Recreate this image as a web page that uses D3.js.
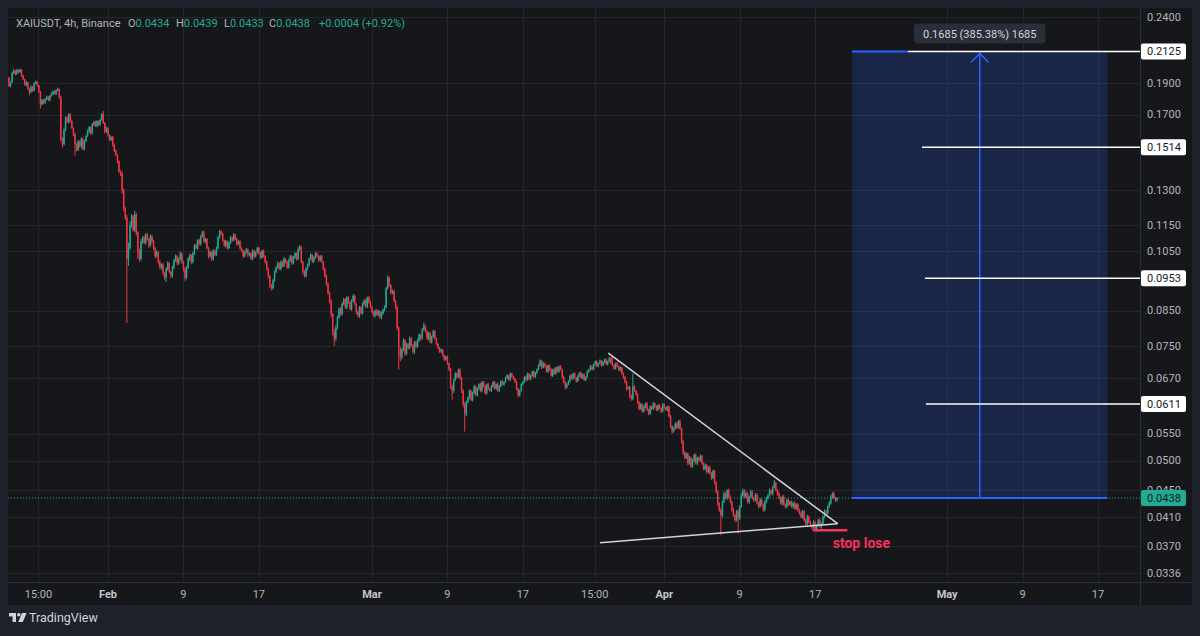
<!DOCTYPE html>
<html lang="en">
<head>
<meta charset="UTF-8">
<title>XAIUSDT 4h</title>
<script src="https://d3js.org/d3.v7.min.js"></script>
<style>
  body { margin: 0; background: #1e2129; }
  svg text { font-family: Roboto, "Noto Sans", sans-serif; }
</style>
</head>
<body>
<script>
const width = 1200;
const height = 636;

// 4h candles, first bar 2025-01-21 12:00 UTC, prices in 0.0001 units
const firstBar = Date.UTC(2025, 0, 21, 12);
const barMs = 4 * 3600 * 1000;
const firstOpen = 1935;
const closes = [
  1880,1905,1968,1985,1962,1990,1975,1992,1950,1925,1890,1905,
  1862,1840,1875,1850,1898,1910,1885,1840,1762,1790,1772,1795,
  1810,1788,1815,1830,1845,1828,1852,1860,1805,1560,1530,1610,
  1680,1655,1702,1660,1620,1585,1530,1500,1545,1520,1560,1505,
  1548,1575,1600,1625,1590,1640,1655,1632,1660,1640,1668,1700,
  1650,1600,1620,1580,1555,1570,1530,1495,1475,1440,1390,1380,
  1300,1220,1180,1020,1060,1150,1185,1130,1195,1120,1050,1020,
  1085,1100,1080,1112,1095,1070,1105,1085,1060,1030,1045,1010,
  990,1000,972,955,985,1005,975,962,990,1015,1030,1005,
  1020,1040,1010,985,955,990,1020,1035,1010,1040,1070,1060,
  1090,1075,1105,1120,1085,1095,1060,1030,1045,1020,1050,1035,
  1060,1100,1125,1115,1090,1070,1085,1060,1080,1100,1090,1112,
  1095,1075,1085,1060,1050,1030,1045,1055,1035,1040,1020,1050,
  1030,1045,1060,1040,1025,1050,1030,1010,985,960,930,920,
  945,975,990,1005,985,1010,995,1020,1010,990,1015,1030,
  1005,1025,1040,1020,1055,1065,1010,975,960,985,1000,1020,
  1035,1010,1025,1040,1030,1015,1030,1010,985,960,935,905,
  880,840,790,770,800,830,855,840,870,885,860,890,
  875,855,880,895,870,845,835,860,842,870,880,862,
  890,875,860,845,835,850,838,848,830,842,852,860,
  920,955,930,905,910,880,860,800,745,720,740,765,
  730,755,745,770,752,735,760,748,765,780,770,795,
  805,790,770,785,760,775,790,770,755,745,735,740,
  725,715,722,705,690,650,640,665,680,672,690,670,
  640,610,590,615,625,640,620,635,650,630,645,655,
  640,660,650,635,655,645,640,650,660,645,655,640,
  650,662,655,660,670,675,665,680,672,668,660,645,
  630,640,655,660,672,665,680,668,675,685,672,682,
  690,700,712,695,705,698,685,700,690,675,690,680,
  695,685,698,690,672,660,648,655,662,675,668,680,
  670,662,675,682,670,678,665,672,685,690,698,690,
  702,710,698,705,712,700,708,715,703,710,718,705,
  700,692,705,698,688,695,680,672,660,645,648,630,
  622,650,640,632,615,600,610,595,605,612,598,590,
  605,600,612,605,598,608,602,595,610,603,598,605,
  585,565,555,560,570,562,575,560,535,515,505,512,
  495,505,490,500,510,495,505,500,508,495,485,492,
  480,488,478,470,482,462,448,430,420,412,432,445,
  438,450,440,432,420,412,405,418,408,425,442,450,
  440,445,432,440,448,438,435,443,430,425,435,428,
  420,432,438,442,450,445,455,462,450,445,438,430,
  440,428,425,435,428,432,425,430,422,428,420,415,
  410,418,405,400,410,402,398,395,402,392,398,405,
  396,400,410,418,415,425,430,440,445,438,434,438
];
// wick lengths above / below the body, 0.0001 units
const upWick = [
  8,5,10,12,6,9,4,7,3,6,5,9,  4,7,10,5,8,6,4,3,9,5,7,6,
  8,4,6,9,5,7,6,10,4,12,8,14,  10,9,6,5,7,4,8,6,10,5,9,7,
  6,8,12,7,5,9,6,10,7,5,8,9,  22,6,9,5,7,4,6,5,8,4,6,5,
  10,8,6,12,20,15,10,8,15,6,5,7,  9,6,8,5,7,4,8,5,6,4,7,3,
  5,4,6,3,5,7,4,3,6,5,7,4,  5,8,3,4,6,5,7,4,3,6,5,8,
  4,6,5,7,9,4,3,5,6,4,7,3,  5,8,6,4,5,3,6,4,5,7,4,6,
  3,5,4,6,3,4,5,6,3,4,5,6,  4,3,5,4,6,3,5,4,3,5,4,3,
  6,5,4,6,3,5,4,7,3,4,6,5,  4,6,5,4,8,7,3,4,5,6,4,5,
  6,3,5,4,6,3,5,4,3,4,5,3,  4,5,3,6,8,5,4,6,5,4,3,5,
  4,3,5,6,4,3,5,4,3,5,4,6,  3,4,5,3,4,3,5,4,3,5,4,6,
  5,7,4,3,5,4,3,5,4,3,4,5,  3,4,3,5,4,3,4,3,5,4,3,4,
  10,3,4,3,4,3,4,3,2,3,2,3,  2,3,2,3,2,3,4,3,4,3,2,3,
  2,3,4,3,2,3,2,3,4,2,3,2,  3,2,3,4,2,3,2,3,2,3,2,4,
  3,2,3,2,3,4,2,3,2,3,2,3,  2,3,2,3,2,4,3,2,3,2,3,2,
  3,4,3,2,3,2,3,2,3,4,2,3,  2,3,2,3,2,3,2,3,2,3,4,2,
  3,2,3,2,3,2,3,2,3,2,3,2,  3,2,3,2,3,2,3,2,3,2,3,4,
  17,3,2,3,2,3,2,3,2,3,2,3,  2,30,3,2,3,2,3,2,3,2,3,2,
  3,2,3,2,3,2,3,2,3,2,3,2,  2,3,2,3,2,3,2,3,2,3,2,3,
  2,3,2,3,2,3,2,2,3,2,2,3,  2,2,3,2,2,2,3,2,2,3,2,3,
  2,2,3,2,2,3,2,2,3,2,4,3,  2,3,2,2,3,2,2,3,2,2,3,2,
  2,3,2,2,3,2,2,5,2,2,3,2,  2,3,2,2,3,2,2,2,3,2,2,2,
  3,2,2,2,3,2,2,2,3,2,2,2,  3,2,2,3,2,2,3,3,2,3,2,1
];
const downWick = [
  6,9,4,7,10,5,8,6,9,5,7,12,  8,20,6,9,5,7,10,8,25,6,9,7,
  5,8,6,4,9,5,7,6,8,15,20,6,  8,5,9,7,6,10,60,8,6,9,12,7,
  8,6,5,9,7,6,8,5,7,9,6,5,  6,10,7,9,6,8,12,7,9,10,8,12,
  15,12,10,207,25,8,10,6,9,12,30,10,  6,8,5,7,6,9,5,7,6,8,5,9,
  6,7,10,8,15,6,5,9,7,6,5,8,  6,5,8,10,12,6,5,7,9,6,5,4,
  7,5,6,4,5,8,6,9,5,7,6,5,  4,6,5,7,6,5,8,6,4,5,6,4,
  5,6,4,7,5,6,4,5,7,6,4,5,  6,5,4,5,6,4,5,7,6,8,10,7,
  5,4,6,5,4,6,5,4,6,5,4,5,  6,4,5,6,4,5,6,8,5,4,5,6,
  4,5,3,4,5,6,4,5,6,5,7,6,  8,10,12,20,6,5,4,6,5,4,5,6,
  5,4,6,5,4,6,5,7,4,5,6,4,  5,4,3,5,4,6,4,5,4,6,5,4,
  3,4,5,6,4,5,6,8,55,10,5,4,  6,4,5,3,4,5,6,4,3,4,5,3,
  4,3,4,5,3,4,3,4,3,4,3,4,  3,4,3,4,4,6,20,5,3,4,3,4,
  5,6,36,5,3,4,3,4,3,2,3,4,  3,4,2,3,4,3,2,3,4,2,3,2,
  3,2,3,4,2,3,2,3,2,3,2,4,  5,3,2,3,2,3,2,3,4,2,3,2,
  3,2,3,4,2,3,2,4,3,2,3,2,  3,2,3,2,4,3,5,3,2,3,2,3,
  2,3,2,3,2,3,2,3,2,3,2,3,  2,3,2,3,2,3,2,3,2,3,2,3,
  2,3,2,3,2,3,3,4,3,5,3,6,  4,3,2,3,4,3,2,3,2,3,2,3,
  2,3,2,3,2,3,2,3,2,3,2,3,  3,4,5,3,2,3,2,3,4,5,3,2,
  3,2,3,2,3,2,3,2,2,3,2,2,  3,2,2,3,2,2,3,4,3,28,3,2,
  2,3,2,2,3,2,3,2,22,3,2,2,  3,2,2,3,2,2,3,2,2,3,2,2,
  3,2,2,3,2,2,3,2,2,3,2,2,  3,2,2,3,2,2,2,3,2,2,3,2,
  2,3,2,2,3,2,2,3,2,2,3,2,  2,3,2,2,3,2,2,2,3,2,2,1
];

// price axis
const priceTicks = [0.24, 0.19, 0.17, 0.13, 0.115, 0.105, 0.085, 0.075, 0.067, 0.055, 0.05, 0.045, 0.041, 0.037, 0.0336];
// time axis
const timeTicks = ["2025-01-24T15:00Z", "2025-02-01T00:00Z", "2025-02-09T00:00Z", "2025-02-17T00:00Z",
  "2025-03-01T00:00Z", "2025-03-09T00:00Z", "2025-03-17T00:00Z", "2025-03-24T15:00Z",
  "2025-04-01T00:00Z", "2025-04-09T00:00Z", "2025-04-17T00:00Z", "2025-05-01T00:00Z",
  "2025-05-09T00:00Z", "2025-05-17T00:00Z"];
const timeLabels = ["15:00", "Feb", "9", "17", "Mar", "9", "17", "15:00", "Apr", "9", "17", "May", "9", "17"];

// drawings
const longEntry = 0.0438;
const longTarget = 0.2125;
const longStart = "2025-04-20T22:00Z";
const longEnd = "2025-05-18T00:00Z";
const longLabel = "0.1685 (385.38%) 1685";
const targetLevels = [0.2125, 0.1514, 0.0953, 0.0611];
const targetStarts = ["2025-04-26T20:30Z", "2025-04-28T08:00Z", "2025-04-28T15:30Z", "2025-04-28T18:00Z"];
const upperTrend = [["2025-03-26T01:30Z", 0.0731], ["2025-04-19T09:20Z", 0.0400]];
const lowerTrend = [["2025-03-25T04:20Z", 0.0374], ["2025-04-19T09:20Z", 0.0400]];
const stopLine = [["2025-04-16T17:45Z", 0.0391], ["2025-04-20T09:50Z", 0.0391]];
const stopText = "stop lose";

const upColor = "#22ab94";
const downColor = "#f23645";
const gridColor = "#24262b";
const textColor = "#b2b5be";

const pane = {left: 8, right: 1140, top: 8, bottom: 582};
const frameRight = 1192, frameBottom = 605;

const candles = closes.map((c, i) => {
  const o = i === 0 ? firstOpen : closes[i - 1];
  return {
    t: new Date(firstBar + i * barMs),
    o: o / 1e4, c: c / 1e4,
    h: (Math.max(o, c) + upWick[i]) / 1e4,
    l: (Math.min(o, c) - downWick[i]) / 1e4
  };
});
const last = candles[candles.length - 1];
const prev = candles[candles.length - 2];

const x = d3.scaleUtc()
    .domain([new Date("2025-02-01T00:00Z"), new Date("2025-05-17T00:00Z")])
    .range([108, 1098]);
const y = d3.scaleLog()
    .domain([0.0336, 0.24])
    .range([573, 17]);

const svg = d3.select("body").append("svg")
    .attr("width", width).attr("height", height);

svg.append("rect").attr("width", width).attr("height", height).attr("fill", "#1e2129");
svg.append("rect")
    .attr("x", pane.left).attr("y", pane.top)
    .attr("width", frameRight - pane.left).attr("height", frameBottom - pane.top)
    .attr("fill", "#16171b");

svg.append("defs").append("clipPath").attr("id", "clip")
    .append("rect")
    .attr("x", pane.left).attr("y", pane.top)
    .attr("width", pane.right - pane.left).attr("height", pane.bottom - pane.top);

// grid
const grid = svg.append("g").attr("stroke", gridColor).attr("stroke-width", 1);
grid.selectAll("line.h").data(priceTicks).join("line")
    .attr("x1", pane.left).attr("x2", pane.right)
    .attr("y1", d => Math.round(y(d)) + 0.5).attr("y2", d => Math.round(y(d)) + 0.5);
grid.selectAll("line.v").data(timeTicks).join("line")
    .attr("x1", d => Math.round(x(new Date(d))) + 0.5).attr("x2", d => Math.round(x(new Date(d))) + 0.5)
    .attr("y1", pane.top).attr("y2", pane.bottom);

// axis borders
const border = svg.append("g").attr("stroke", "#2a2e39").attr("stroke-width", 1);
border.append("line").attr("x1", pane.right + 0.5).attr("x2", pane.right + 0.5)
    .attr("y1", pane.top).attr("y2", frameBottom);
border.append("line").attr("x1", pane.left).attr("x2", frameRight)
    .attr("y1", pane.bottom + 0.5).attr("y2", pane.bottom + 0.5);

const plot = svg.append("g").attr("clip-path", "url(#clip)");

// last price dotted line
plot.append("line")
    .attr("x1", pane.left).attr("x2", pane.right)
    .attr("y1", y(last.c)).attr("y2", y(last.c))
    .attr("stroke", upColor).attr("stroke-width", 1).attr("stroke-dasharray", "1,2");

// candles
plot.append("g").selectAll("line").data(candles).join("line")
    .attr("x1", d => x(d.t)).attr("x2", d => x(d.t))
    .attr("y1", d => y(d.h)).attr("y2", d => y(d.l))
    .attr("stroke", d => d.c >= d.o ? upColor : downColor)
    .attr("stroke-width", 1);
plot.append("g").selectAll("rect").data(candles).join("rect")
    .attr("x", d => x(d.t) - 0.7).attr("width", 1.4)
    .attr("y", d => y(Math.max(d.o, d.c)))
    .attr("height", d => Math.max(1, Math.abs(y(d.o) - y(d.c))))
    .attr("fill", d => d.c >= d.o ? upColor : downColor);

// long position tool
const lx0 = x(new Date(longStart)), lx1 = x(new Date(longEnd));
const lxm = (lx0 + lx1) / 2;
plot.append("rect")
    .attr("x", lx0).attr("width", lx1 - lx0)
    .attr("y", y(longTarget)).attr("height", y(longEntry) - y(longTarget))
    .attr("fill", "rgba(41,98,255,0.2)");
plot.append("line")
    .attr("x1", lx0).attr("x2", lx1)
    .attr("y1", y(longEntry)).attr("y2", y(longEntry))
    .attr("stroke", "#2962ff").attr("stroke-width", 2);
plot.append("line")
    .attr("x1", lx0).attr("x2", x(new Date(targetStarts[0])))
    .attr("y1", y(longTarget)).attr("y2", y(longTarget))
    .attr("stroke", "#2962ff").attr("stroke-width", 2);
plot.append("line")
    .attr("x1", lxm).attr("x2", lxm)
    .attr("y1", y(longEntry)).attr("y2", y(longTarget) + 2)
    .attr("stroke", "#2962ff").attr("stroke-width", 1.5);
plot.append("path")
    .attr("d", `M${lxm - 9},${y(longTarget) + 11}L${lxm},${y(longTarget) + 2}L${lxm + 9},${y(longTarget) + 11}`)
    .attr("fill", "none").attr("stroke", "#2962ff").attr("stroke-width", 1.5);

// target lines
plot.selectAll("line.target").data(targetLevels).join("line")
    .attr("x1", (d, i) => x(new Date(targetStarts[i]))).attr("x2", pane.right)
    .attr("y1", d => y(d)).attr("y2", d => y(d))
    .attr("stroke", "#ffffff").attr("stroke-width", 1.5);

// triangle
const trendLine = d3.line().x(d => x(new Date(d[0]))).y(d => y(d[1]));
plot.append("path").attr("d", trendLine(upperTrend))
    .attr("fill", "none").attr("stroke", "#d1d4dc").attr("stroke-width", 1.5);
plot.append("path").attr("d", trendLine(lowerTrend))
    .attr("fill", "none").attr("stroke", "#d1d4dc").attr("stroke-width", 1.5);
plot.append("path").attr("d", trendLine(stopLine))
    .attr("fill", "none").attr("stroke", "#f7325b").attr("stroke-width", 2.5);
plot.append("text")
    .attr("x", x(new Date(stopLine[0][0])) + 20).attr("y", y(stopLine[0][1]) + 18)
    .attr("fill", "#f7325b").attr("font-size", 14).attr("font-weight", "bold")
    .text(stopText);

// long tool label
const lbl = svg.append("g");
const lblText = lbl.append("text")
    .attr("x", lxm).attr("y", y(longTarget) - 13)
    .attr("text-anchor", "middle").attr("fill", "#d1d4dc").attr("font-size", 11)
    .text(longLabel);
const bb = lblText.node().getBBox();
lbl.insert("rect", "text")
    .attr("x", bb.x - 9).attr("y", y(longTarget) - 28)
    .attr("width", bb.width + 18).attr("height", 20).attr("rx", 4)
    .attr("fill", "#2a2e39");

// right axis labels
svg.append("g").selectAll("text").data(priceTicks).join("text")
    .attr("x", 1147).attr("y", d => y(d)).attr("dy", "0.35em")
    .attr("fill", textColor).attr("font-size", 11)
    .text(d => d.toFixed(4));

const boxes = svg.append("g");
targetLevels.forEach(v => {
  boxes.append("rect").attr("x", 1141).attr("y", y(v) - 8)
      .attr("width", 45).attr("height", 16).attr("rx", 2).attr("fill", "#ffffff");
  boxes.append("text").attr("x", 1147).attr("y", y(v)).attr("dy", "0.35em")
      .attr("fill", "#131722").attr("font-size", 11).text(v.toFixed(4));
});
boxes.append("rect").attr("x", 1141).attr("y", y(last.c) - 8)
    .attr("width", 45).attr("height", 16).attr("rx", 2).attr("fill", upColor);
boxes.append("text").attr("x", 1147).attr("y", y(last.c)).attr("dy", "0.35em")
    .attr("fill", "#131722").attr("font-size", 11).text(last.c.toFixed(4));

// time axis labels
svg.append("g").selectAll("text").data(timeTicks).join("text")
    .attr("x", d => x(new Date(d))).attr("y", 598)
    .attr("text-anchor", "middle").attr("font-size", 11)
    .attr("fill", (d, i) => /[A-Za-z]/.test(timeLabels[i]) ? "#c3c6ce" : textColor)
    .attr("font-weight", (d, i) => /[A-Za-z]/.test(timeLabels[i]) ? "bold" : "normal")
    .text((d, i) => timeLabels[i]);

// header legend
const fmt = d3.format(".4f");
const chg = last.c - prev.c;
const header = svg.append("text").attr("y", 27).attr("font-size", 11);
const parts = [
  [16, "XAIUSDT, 4h, Binance", textColor],
  [128, "O", textColor], [null, fmt(last.o), upColor],
  [176, "H", textColor], [null, fmt(last.h), upColor],
  [224, "L", textColor], [null, fmt(last.l), upColor],
  [269, "C", textColor], [null, fmt(last.c), upColor],
  [319, `+${fmt(chg)} (+${(chg / prev.c * 100).toFixed(2)}%)`, upColor]
];
parts.forEach(p => {
  const t = header.append("tspan").attr("fill", p[2]).text(p[1]);
  if (p[0] !== null) t.attr("x", p[0]);
});

// TradingView logo
const logo = svg.append("g").attr("transform", "translate(9,613)").attr("fill", "#d1d4dc");
logo.append("path").attr("d", "M0 0H7V9H3.6V3.4H0Z");
logo.append("circle").attr("cx", 9.8).attr("cy", 1.8).attr("r", 1.8);
logo.append("path").attr("d", "M13 0H17.6L13.8 9H9.3Z");
svg.append("text").attr("x", 29).attr("y", 622)
    .attr("fill", "#d1d4dc").attr("font-size", 12.5)
    .text("TradingView");
</script>
</body>
</html>
